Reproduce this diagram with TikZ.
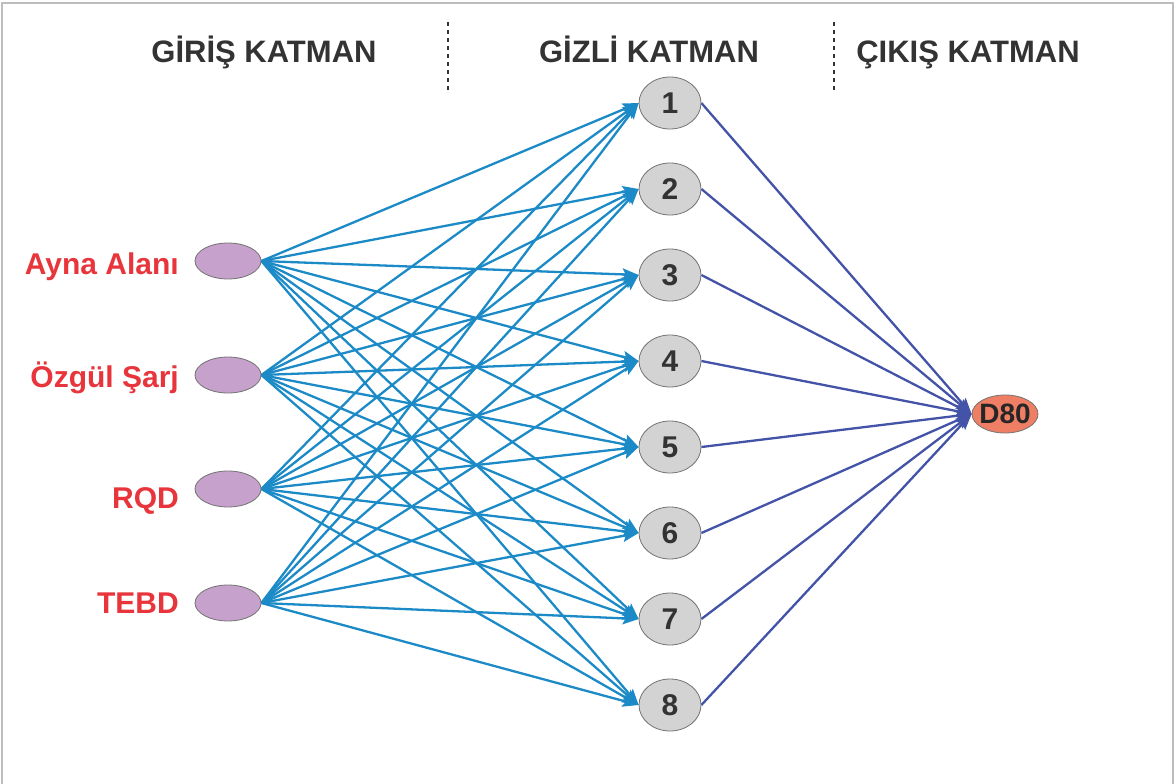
\documentclass[tikz,border=0pt]{standalone}
\usepackage{fontspec}
\setmainfont{Liberation Sans}
\usetikzlibrary{shapes.geometric,arrows.meta}
\definecolor{framegray}{HTML}{BDBDBD}
\definecolor{headgray}{HTML}{333333}
\definecolor{labelred}{HTML}{E8343B}
\definecolor{inlav}{HTML}{C6A1CB}
\definecolor{hidgray}{HTML}{D3D3D4}
\definecolor{outsalmon}{HTML}{EF7F64}
\definecolor{inedge}{HTML}{1B8AC6}
\definecolor{outedge}{HTML}{4353A8}
\pgfdeclarelayer{edges}
\pgfsetlayers{edges,main}
\begin{document}
\begin{tikzpicture}[x=1pt,y=-1pt,
  header/.style={text=headgray,font=\fontsize{31}{34}\selectfont\bfseries,inner sep=0pt,anchor=base},
  inlabel/.style={text=labelred,font=\fontsize{30}{32}\selectfont\bfseries,inner sep=0pt,anchor=base east},
  innode/.style={ellipse,draw=black!55,line width=0.8pt,fill=inlav,minimum width=66pt,minimum height=36pt,inner sep=0pt},
  hidnode/.style={ellipse,draw=black!55,line width=0.8pt,fill=hidgray,minimum width=62pt,minimum height=52pt,inner sep=0pt,text=headgray,font=\fontsize{30}{32}\selectfont\bfseries},
  outnode/.style={ellipse,draw=black!55,line width=0.8pt,fill=outsalmon,minimum width=66pt,minimum height=38pt,inner xsep=-12pt,inner ysep=-6pt,text=black!85,font=\fontsize{28}{30}\selectfont\bfseries},
  sep/.style={draw=headgray,line width=1.6pt,dash pattern=on 4pt off 4pt},
  inarrow/.style={draw=inedge,line width=2.3pt,-{Stealth[length=16pt,width=12pt,inset=3pt]}},
  outarrow/.style={draw=outedge,line width=2.3pt,-{Stealth[length=16pt,width=12pt,inset=3pt]}}]
\useasboundingbox (0,0) rectangle (1176,784);

% frame
\draw[framegray,line width=1.5pt] (2,784) -- (2,3) -- (1173,3) -- (1173,784);

% column headers and separators
\node[header] (hin) at (264,63) {GİRİŞ KATMAN};
\node[header] (hhid) at (649,63) {GİZLİ KATMAN};
\node[header] (hout) at (968,63) {ÇIKIŞ KATMAN};
\coordinate (s1a) at (448,22); \coordinate (s1b) at (448,90);
\coordinate (s2a) at (834,22); \coordinate (s2b) at (834,90);
\draw[sep] (s1a) -- (s1b);
\draw[sep] (s2a) -- (s2b);

% input layer
\node[innode] (in1) at (228,261) {};
\node[innode] (in2) at (228,375) {};
\node[innode] (in3) at (228,489) {};
\node[innode] (in4) at (228,603) {};
\node[inlabel] (l1) at (179,274) {Ayna Alanı};
\node[inlabel] (l2) at (179,387) {Özgül Şarj};
\node[inlabel] (l3) at (179,508) {RQD};
\node[inlabel] (l4) at (179,613) {TEBD};

% hidden layer
\foreach \k in {1,...,8}
  \node[hidnode] (h\k) at (670,{103+86*(\k-1)}) {\k};

% output layer
\node[outnode] (out) at (1005,414) {D80};

% connections
\begin{pgfonlayer}{edges}
\foreach \i in {1,...,4}
  \foreach \k in {1,...,8}
    \draw[inarrow] (in\i.east) -- (h\k.west);
\foreach \k in {1,...,8}
  \draw[outarrow] (h\k.east) -- (out.west);
\end{pgfonlayer}
\end{tikzpicture}
\end{document}
